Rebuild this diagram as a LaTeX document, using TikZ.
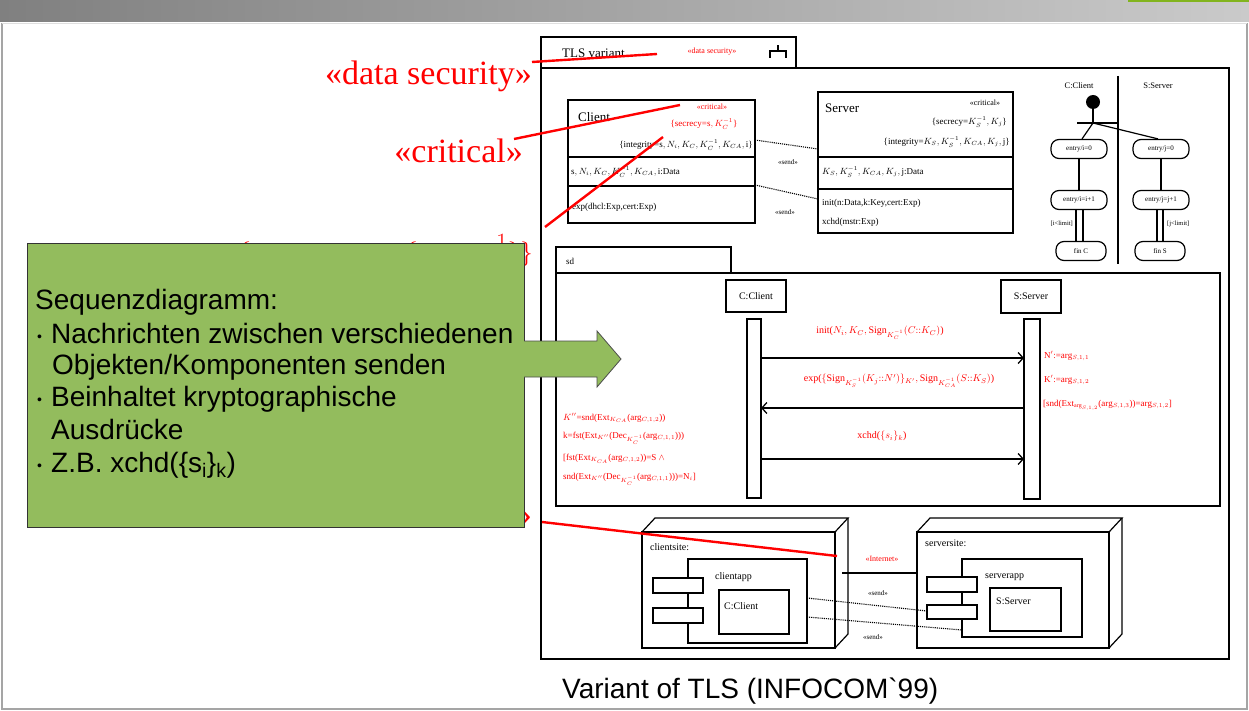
\documentclass[tikz,border=0pt]{standalone}
\usepackage{fontspec}
\setmainfont{Liberation Serif}
\newfontfamily\sansf{Liberation Sans}
\usetikzlibrary{arrows.meta,calc}
\definecolor{hdrL}{RGB}{128,128,128}
\definecolor{hdrR}{RGB}{202,202,202}
\definecolor{topgreen}{RGB}{130,180,30}
\definecolor{gbox}{RGB}{147,188,93}
\definecolor{annred}{RGB}{255,0,0}
\definecolor{frameg}{RGB}{165,165,165}
\newcommand{\mkbox}[6][]{%
 \pgfmathsetmacro\mbx{(#3+#5)/2}%
 \pgfmathsetmacro\mby{(#4+#6)/2}%
 \pgfmathsetmacro\mbw{#5-#3}%
 \pgfmathsetmacro\mbh{#6-#4}%
 \node[umlbox, minimum width=\mbw pt, minimum height=\mbh pt, #1] (#2) at (\mbx,\mby) {};}
\newcommand{\mknode}[5]{%
 \mkbox{#1}{#2}{#3}{#4}{#5}%
 \draw[umlln] (#2,#3) -- (#2+13,#3-14) -- (#4+13,#3-14) -- (#4,#3);
 \draw[umlln] (#4+13,#3-14) -- (#4+13,#5-14) -- (#4,#5);}
\tikzset{
 umlln/.style={draw=black, line width=1.2},
 umlbox/.style={draw=black, line width=1.3, inner sep=0pt, outer sep=0pt, fill=white},
 txt/.style={inner sep=0pt, font=\fontsize{9}{10}\selectfont},
 rtxt/.style={txt, text=annred},
 stxt/.style={inner sep=0pt, font=\fontsize{7}{8}\selectfont},
 big/.style={inner sep=0pt, text=annred, anchor=base east, font=\fontsize{34}{38}\selectfont},
 ann/.style={draw=annred, line width=2.4},
 act/.style={draw, line width=1.2, rounded corners=8pt, minimum width=56pt, minimum height=19pt, inner sep=0pt, font=\fontsize{7}{8}\selectfont},
 dotc/.style={densely dotted, line width=1.1},
 msg/.style={line width=1.3, -{Straight Barb[length=5pt,width=11pt]}},
 gline/.style={inner sep=0pt, anchor=base west, font=\sansf\fontsize{28}{32}\selectfont},
 bul/.style={inner sep=0pt, anchor=base west, font=\sansf\fontsize{14}{14}\selectfont},
}
\begin{document}
\begin{tikzpicture}[x=1pt,y=-1pt]
\useasboundingbox (0,0) rectangle (1249,711);
\fill[white] (0,0) rectangle (1249,711);
% slide header and frame
\shade[left color=hdrL, right color=hdrR] (0,0) rectangle (1249,22);
\fill[topgreen] (1128,0) rectangle (1249,2.5);
\draw[frameg, line width=1.5] (2,23) -- (2,709) -- (1247,709) -- (1247,23);
\draw[gray!25, line width=1] (2,23.5) -- (1247,23.5);

% big red labels (partly hidden later by the green box)
\node[big] (lds) at (532,85) {«data security»};
\node[big] (lcr) at (523,163) {«critical»};
\node[big] (lsec) at (533,261) {$\{\;\mathrm{secrecy}\;=\;\{\;s,\;K_C^{-1}\}\}$};
\node[big] (lint) at (532,525) {«Internet»};

% main package frame
\mkbox{tab}{541}{37}{796}{68}
\mkbox{main}{541}{68}{1229}{659}
\node[inner sep=0pt, anchor=west, font=\fontsize{13}{14}\selectfont] (tlsv) at (562,53) {TLS variant};
\node[rtxt, font=\fontsize{8}{9}\selectfont] (tabds) at (712,52) {«data security»};
\draw[umlln] (770,58) -- (770,51) -- (786,51) -- (786,58);
\draw[umlln] (778,51) -- (778,45);

% Client class
\mkbox{clientc}{568}{100}{755}{223}
\draw[umlln] (clientc.west |- 0,157) -- (clientc.east |- 0,157);
\draw[umlln] (clientc.west |- 0,186) -- (clientc.east |- 0,186);
\node[inner sep=0pt, anchor=west, font=\fontsize{13}{14}\selectfont] (clname) at (578,117) {Client};
\node[rtxt, font=\fontsize{8}{9}\selectfont] (clcrit) at (712,107) {«critical»};
\node[rtxt] (clsec) at (704,124) {\{secrecy=$\mathrm{s},K_C^{-1}$\}};
\node[txt, anchor=east] (clint) at (753,145) {\{integrity=$\mathrm{s},N_i,K_C,K_C^{-1},K_{CA},\mathrm{i}$\}};
\node[txt, anchor=west] (clatt) at (571,172) {$\mathrm{s},N_i,K_C,K_C^{-1},K_{CA},\mathrm{i}$:Data};
\node[txt, anchor=west] (clop) at (572,207) {exp(dhcl:Exp,cert:Exp)};

% Server class
\mkbox{serverc}{818}{92}{1013}{233}
\draw[umlln] (serverc.west |- 0,157) -- (serverc.east |- 0,157);
\draw[umlln] (serverc.west |- 0,189) -- (serverc.east |- 0,189);
\node[inner sep=0pt, anchor=west, font=\fontsize{13}{14}\selectfont] (svname) at (825,108) {Server};
\node[txt, font=\fontsize{8}{9}\selectfont] (svcrit) at (985,103) {«critical»};
\node[txt, anchor=east] (svsec) at (1007,122) {\{secrecy=$K_S^{-1},K_j$\}};
\node[txt, anchor=east] (svint) at (1010,142) {\{integrity=$K_S,K_S^{-1},K_{CA},K_j,\mathrm{j}$\}};
\node[txt, anchor=west] (svatt) at (822,172) {$K_S,K_S^{-1},K_{CA},K_j,\mathrm{j}$:Data};
\node[txt, anchor=west] (svop1) at (822,203) {init(n:Data,k:Key,cert:Exp)};
\node[txt, anchor=west] (svop2) at (822,222) {xchd(mstr:Exp)};
\coordinate (d1a) at (755,140); \coordinate (d1b) at (818,149);
\coordinate (d2a) at (755,185); \coordinate (d2b) at (818,199);
\draw[dotc] (d1a) -- (d1b);
\draw[dotc] (d2a) -- (d2b);
\node[stxt] (snd1) at (788,162) {«send»};
\node[stxt] (snd2) at (785,212) {«send»};

% activity diagram
\node[txt, font=\fontsize{8.5}{9}\selectfont] (acC) at (1079,86) {C:Client};
\node[txt, font=\fontsize{8.5}{9}\selectfont] (acS) at (1158,86) {S:Server};
\coordinate (divt) at (1118,76); \coordinate (divb) at (1118,264);
\draw[umlln] (divt) -- (divb);
\node[circle, fill=black, minimum size=14pt, inner sep=0pt] (init) at (1093,102) {};
\coordinate (forkl) at (1077,123); \coordinate (forkr) at (1117,123); \coordinate (forkc) at (1093,123);
\draw[line width=1.6] (forkl) -- (forkr);
\draw[umlln] (init) -- (forkc);
\node[act] (ci0) at (1079,149) {entry/i=0};
\node[act] (ci1) at (1079,200) {entry/i=i+1};
\node[act, minimum width=50pt] (cfin) at (1081,251) {fin C};
\node[act] (sj0) at (1161,149) {entry/j=0};
\node[act] (sj1) at (1161,200) {entry/j=j+1};
\node[act, minimum width=50pt] (sfin) at (1160,251) {fin S};
\draw[umlln] (forkc) -- (ci0.north -| 1082,0);
\draw[umlln] (forkc) -- (sj0.north -| 1158,0);
\draw[umlln] (ci0) -- (ci1);
\draw[umlln] (sj0) -- (sj1);
\draw[umlln] (ci1.south -| 1076,0) -- (cfin.north -| 1076,0);
\draw[umlln] (ci1.south -| 1083,0) -- (cfin.north -| 1083,0);
\draw[umlln] (sj1.south -| 1157,0) -- (sfin.north -| 1157,0);
\draw[umlln] (sj1.south -| 1163,0) -- (sfin.north -| 1163,0);
\node[stxt, anchor=east, font=\fontsize{6.5}{7}\selectfont] (gc) at (1073,224) {[i<limit]};
\node[stxt, anchor=west, font=\fontsize{6.5}{7}\selectfont] (gs) at (1167,224) {[j<limit]};

% sequence diagram
\mkbox{sdtab}{556}{247}{731}{273}
\mkbox{sdf}{556}{273}{1220}{506}
\node[txt, anchor=west] (sdl) at (566,261) {sd};
\mkbox{cl}{726}{280}{786}{312}
\node[txt, font=\fontsize{10}{11}\selectfont] at (cl) {C:Client};
\mkbox{clb}{747}{319}{761}{498}
\mkbox{sv}{1001}{280}{1061}{313}
\node[txt, font=\fontsize{10}{11}\selectfont] at (sv) {S:Server};
\mkbox{svb}{1024}{319}{1040}{499}
\draw[msg] (clb.east |- 0,358) -- (svb.west |- 0,358);
\draw[msg] (svb.west |- 0,408) -- (clb.east |- 0,408);
\draw[msg] (clb.east |- 0,459) -- (svb.west |- 0,459);
\node[rtxt, font=\fontsize{10}{11}\selectfont] (m1) at (880,333) {init($N_i,K_C,\mathrm{Sign}_{K_C^{-1}}(C{::}K_C)$)};
\node[rtxt, font=\fontsize{10}{11}\selectfont] (m2) at (899,381) {exp($\{\mathrm{Sign}_{K_S^{-1}}(K_j{::}N')\}_{K'},\mathrm{Sign}_{K_{CA}^{-1}}(S{::}K_S)$)};
\node[rtxt, font=\fontsize{10}{11}\selectfont] (m3) at (882,436) {xchd($\{s_i\}_k$)};
\begin{scope}[every node/.append style={font=\fontsize{10.5}{11}\selectfont}]
\node[rtxt, anchor=west] (l1) at (563,418) {$K''$=snd(Ext$_{K_{CA}}$(arg$_{C,1,2}$))};
\node[rtxt, anchor=west] (l2) at (563,438) {k=fst(Ext$_{K''}$(Dec$_{K_C^{-1}}$(arg$_{C,1,1}$)))};
\node[rtxt, anchor=west] (l3) at (563,459) {[fst(Ext$_{K_{CA}}$(arg$_{C,1,2}$))=S $\wedge$};
\node[rtxt, anchor=west] (l4) at (563,479) {snd(Ext$_{K''}$(Dec$_{K_C^{-1}}$(arg$_{C,1,1}$)))=N$_i$]};
\node[rtxt, anchor=west] (r1) at (1044,356) {N$'$:=arg$_{S,1,1}$};
\node[rtxt, anchor=west] (r2) at (1044,380) {K$'$:=arg$_{S,1,2}$};
\node[rtxt, anchor=west] (r3) at (1043,405) {[snd(Ext$_{\mathrm{arg}_{S,1,2}}$(arg$_{S,1,3}$))=arg$_{S,1,2}$]};
\end{scope}

% deployment
\mknode{csite}{642}{532}{835}{648}
\node[txt, anchor=west, font=\fontsize{10}{11}\selectfont] (csl) at (650,547) {clientsite:};
\mkbox{capp}{688}{559}{807}{643}
\node[txt, anchor=west, font=\fontsize{10}{11}\selectfont] (cal) at (715,577) {clientapp};
\mkbox{cr1}{653}{578}{703}{593}
\mkbox{cr2}{653}{608}{703}{623}
\mkbox{cobj}{719}{590}{789}{634}
\node[txt, anchor=west, font=\fontsize{10}{11}\selectfont] (col) at (724,606) {C:Client};
\mknode{ssite}{917}{532}{1109}{648}
\node[txt, anchor=west, font=\fontsize{10}{11}\selectfont] (ssl) at (925,543) {serversite:};
\mkbox{sapp}{962}{559}{1082}{637}
\node[txt, anchor=west, font=\fontsize{10}{11}\selectfont] (sal) at (985,577) {serverapp};
\mkbox{sr1}{927}{577}{977}{592}
\mkbox{sr2}{927}{605}{977}{619}
\mkbox{sobj}{990}{588}{1061}{631}
\node[txt, anchor=west, font=\fontsize{10}{11}\selectfont] (sol) at (996,601) {S:Server};
\coordinate (inA) at (842,573);
\draw[umlln] (inA) -- (ssite.west |- inA);
\node[rtxt, font=\fontsize{8}{9}\selectfont] (inl) at (882,559) {«Internet»};
\draw[dotc] (capp.east |- 0,598) -- (sr2.west |- 0,611);
\draw[dotc] (capp.east |- 0,617) -- (sapp.west |- 0,630);
\node[stxt] (snd3) at (878,593) {«send»};
\node[stxt] (snd4) at (873,637) {«send»};

% red annotation lines
\coordinate (a1s) at (532,62); \coordinate (a1e) at (657,54);
\coordinate (a2s) at (514,139); \coordinate (a2e) at (680,105);
\coordinate (a3s) at (545,227); \coordinate (a3e) at (663,137);
\coordinate (a4s) at (542,522); \coordinate (a4e) at (837,556);
\draw[ann] (a1s) -- (a1e);
\draw[ann] (a2s) -- (a2e);
\draw[ann] (a3s) -- (a3e);
\draw[ann] (a4s) -- (a4e);

% green note and arrow
\node[draw=black!80, fill=gbox, line width=0.8, minimum width=497pt, minimum height=284pt, inner sep=0pt] (gbx) at (275.5,385) {};
\draw[draw=black!70, fill=gbox, line width=0.8] (524,341) -- (597,341) -- (597,331) -- (621,359) -- (597,387) -- (597,377) -- (524,377);
\node[gline] (g1) at (35,309) {Sequenzdiagramm:};
\node[bul] (b1) at (37,341) {•};
\node[gline] (g2) at (51,343) {Nachrichten zwischen verschiedenen};
\node[gline] (g3) at (52,374) {Objekten/Komponenten senden};
\node[bul] (b2) at (37,404) {•};
\node[gline] (g4) at (51,406) {Beinhaltet kryptographische};
\node[gline] (g5) at (51,439) {Ausdrücke};
\node[bul] (b3) at (37,470) {•};
\node[gline] (g6) at (51,472) {Z.B. xchd(\{s\textsubscript{i}\}\textsubscript{k})};

% caption
\node[gline] (cap) at (562,698) {Variant of TLS (INFOCOM\symbol{96}99)};
\end{tikzpicture}
\end{document}
